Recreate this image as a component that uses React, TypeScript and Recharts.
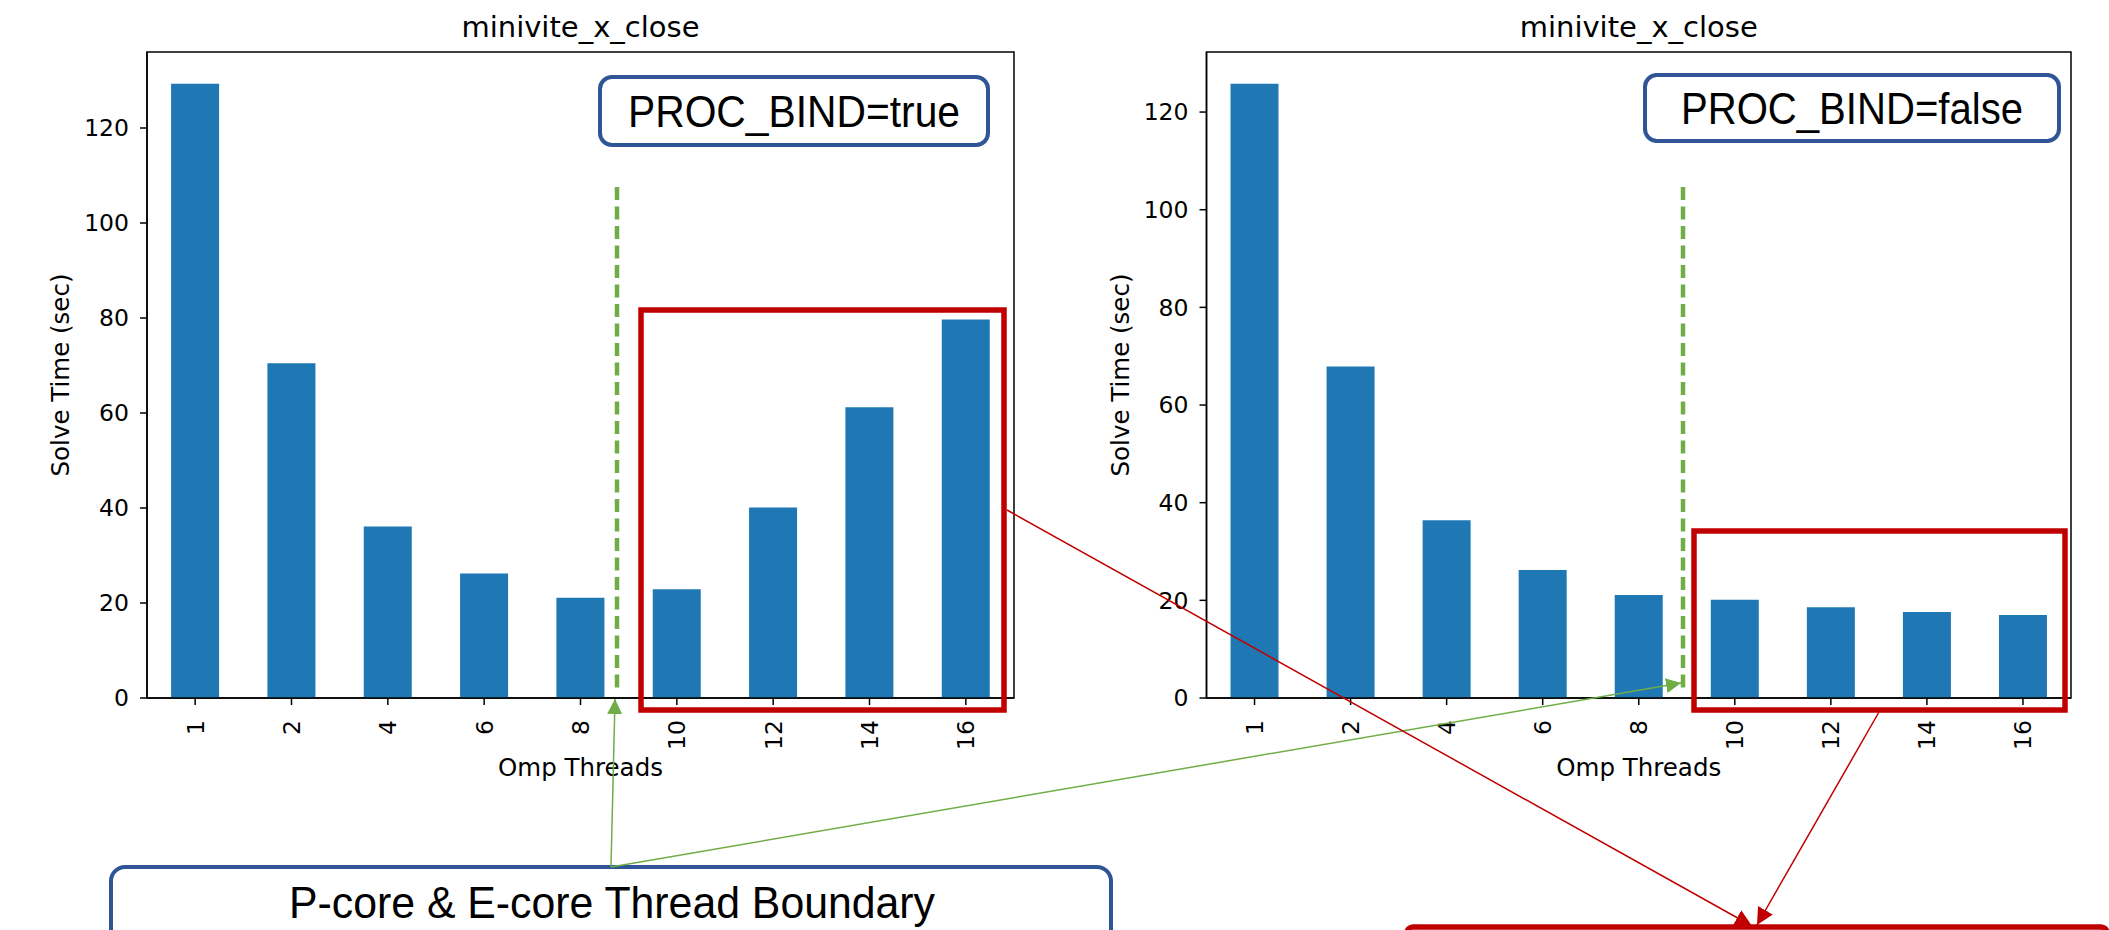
import React from 'react';
import { Bar, BarChart, ReferenceArea, XAxis, YAxis } from 'recharts';

const threads = ['1', '2', '4', '6', '8', '10', '12', '14', '16'];
const solveBindTrue = [129.3, 70.5, 36.1, 26.2, 21.1, 22.9, 40.1, 61.2, 79.7];
const solveBindFalse = [125.8, 67.9, 36.4, 26.2, 21.1, 20.1, 18.6, 17.6, 17.0];
const yTicks = [0, 20, 40, 60, 80, 100, 120];

const chartTitle = 'minivite_x_close';
const xLabel = 'Omp Threads';
const yLabel = 'Solve Time (sec)';

const FONT = 'DejaVu Sans, sans-serif';
const NOTE_FONT = 'Liberation Sans Narrow, Liberation Sans, sans-serif';
const BLUE = '#1f77b4';
const GREEN = '#70AD47';
const RED = '#C00000';
const NAVY = '#2F5597';

// eslint-disable-next-line @typescript-eslint/no-explicit-any
const RotatedTick = (props: any) => {
  const { x, y, payload } = props;
  return (
    <g transform={`translate(${x},${y})`}>
      <text
        transform="rotate(-90)"
        textAnchor="end"
        dy="0.36em"
        fontSize={23.5}
        fontFamily={FONT}
        fill="#000"
      >
        {payload.value}
      </text>
    </g>
  );
};

interface PanelProps {
  values: number[];
  yMax: number;
  left: number;
  width: number;
  yAxisWidth: number;
  marginRight: number;
}

const Panel: React.FC<PanelProps> = ({ values, yMax, left, width, yAxisWidth, marginRight }) => {
  const data = threads.map((t, i) => ({ threads: t, time: values[i] }));
  return (
    <div style={{ position: 'absolute', left, top: 0 }}>
      <BarChart
        width={width}
        height={930}
        data={data}
        barCategoryGap="25%"
        margin={{ top: 52, right: marginRight, left: 0, bottom: 0 }}
        style={{ fontFamily: FONT }}
      >
        <XAxis
          dataKey="threads"
          height={232}
          interval={0}
          tick={<RotatedTick />}
          tickSize={7}
          tickMargin={15}
          axisLine={{ stroke: '#000', strokeWidth: 1.5 }}
          tickLine={{ stroke: '#000', strokeWidth: 1.5 }}
          label={{ value: xLabel, position: 'insideBottom', offset: 154, fontSize: 24.5, fill: '#000' }}
        />
        <YAxis
          width={yAxisWidth}
          domain={[0, yMax]}
          ticks={yTicks}
          allowDataOverflow
          tickSize={7}
          tickMargin={11}
          tick={{ fontSize: 23.5, fill: '#000', fontFamily: FONT }}
          axisLine={{ stroke: '#000', strokeWidth: 1.5 }}
          tickLine={{ stroke: '#000', strokeWidth: 1.5 }}
          label={{
            value: yLabel,
            angle: -90,
            position: 'insideLeft',
            offset: 60,
            fontSize: 24.5,
            fill: '#000',
            style: { textAnchor: 'middle' },
          }}
        />
        <Bar dataKey="time" fill={BLUE} isAnimationActive={false} />
        {/* axes frame + title, like matplotlib's four spines */}
        <ReferenceArea
          y1={0}
          y2={yMax}
          fill="none"
          fillOpacity={0}
          stroke="#000"
          strokeWidth={1.5}
          label={{ value: chartTitle, position: 'top', offset: 15, fontSize: 29, fill: '#000' }}
        />
      </BarChart>
    </div>
  );
};

const Notes = () => (
  <svg
    width={2109}
    height={930}
    style={{ position: 'absolute', left: 0, top: 0, pointerEvents: 'none' }}
  >
    <defs>
      <marker id="gHead" viewBox="0 0 10 10" refX="10" refY="5" markerUnits="userSpaceOnUse" markerWidth="15" markerHeight="15" orient="auto">
        <path d="M0,0 L10,5 L0,10 z" fill={GREEN} />
      </marker>
      <marker id="rHead" viewBox="0 0 10 10" refX="10" refY="5" markerUnits="userSpaceOnUse" markerWidth="17" markerHeight="17" orient="auto">
        <path d="M0,0 L10,5 L0,10 z" fill={RED} />
      </marker>
    </defs>

    {/* P/E core boundary */}
    <line x1={617} y1={187} x2={617} y2={694} stroke={GREEN} strokeWidth={4.5} strokeDasharray="13 6.5" />
    <line x1={1683} y1={187} x2={1683} y2={691} stroke={GREEN} strokeWidth={4.5} strokeDasharray="13 6.5" />

    {/* highlight boxes */}
    <rect x={641} y={310} width={363} height={400} fill="none" stroke={RED} strokeWidth={5.5} />
    <rect x={1694} y={531} width={371} height={179} fill="none" stroke={RED} strokeWidth={5.5} />

    {/* PROC_BIND labels */}
    <rect x={600} y={77} width={388} height={68} rx={12} fill="#fff" stroke={NAVY} strokeWidth={4} />
    <text x={794} y={127} textAnchor="middle" fontSize={44} fontFamily={NOTE_FONT} textLength={332} lengthAdjust="spacingAndGlyphs">PROC_BIND=true</text>
    <rect x={1645} y={75} width={414} height={66} rx={12} fill="#fff" stroke={NAVY} strokeWidth={4} />
    <text x={1852} y={124} textAnchor="middle" fontSize={44} fontFamily={NOTE_FONT} textLength={342} lengthAdjust="spacingAndGlyphs">PROC_BIND=false</text>

    {/* bottom callouts */}
    <rect x={111} y={867} width={1000} height={110} rx={14} fill="#fff" stroke={NAVY} strokeWidth={4} />
    <text x={612} y={918} textAnchor="middle" fontSize={44} fontFamily={NOTE_FONT} textLength={646} lengthAdjust="spacingAndGlyphs">P-core &amp; E-core Thread Boundary</text>
    <rect x={1407} y={927} width={700} height={60} rx={6} fill="none" stroke={RED} strokeWidth={5.5} />

    {/* arrows */}
    <line x1={611} y1={867} x2={615} y2={699} stroke={GREEN} strokeWidth={1.5} markerEnd="url(#gHead)" />
    <line x1={611} y1={867} x2={1681} y2={683} stroke={GREEN} strokeWidth={1.5} markerEnd="url(#gHead)" />
    <line x1={1007} y1={510} x2={1752} y2={926} stroke={RED} strokeWidth={1.5} markerEnd="url(#rHead)" />
    <line x1={1879} y1={712} x2={1757} y2={925} stroke={RED} strokeWidth={1.5} markerEnd="url(#rHead)" />
  </svg>
);

const App = () => (
  <div style={{ position: 'absolute', left: 0, top: 0, width: 2109, height: 930, background: '#fff', overflow: 'hidden' }}>
    <Panel values={solveBindTrue} yMax={136} left={0} width={1060} yAxisWidth={147} marginRight={46} />
    <Panel values={solveBindFalse} yMax={132.3} left={1060} width={1049} yAxisWidth={146.5} marginRight={38} />
    <Notes />
  </div>
);

export default App;
